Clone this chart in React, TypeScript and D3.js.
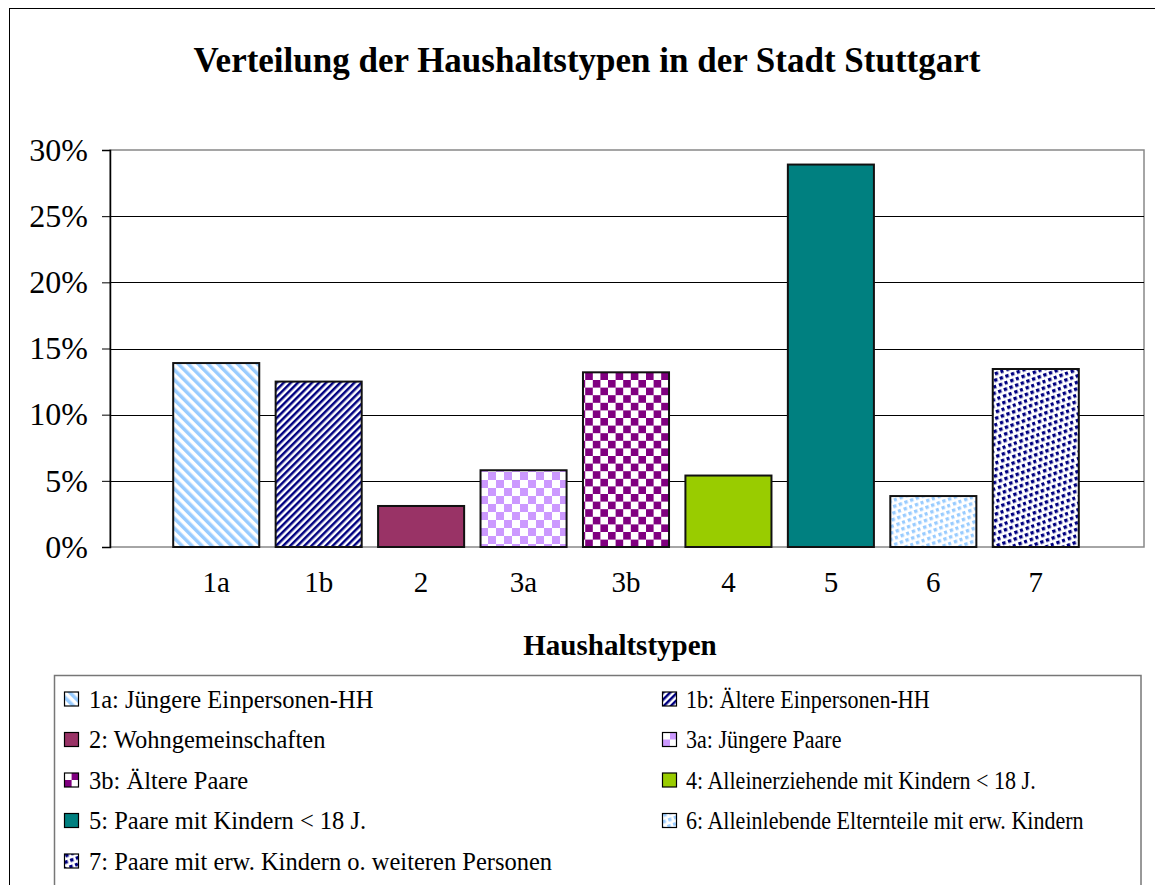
import React, { useEffect, useRef } from 'react';
import * as d3 from 'd3';

// chart data
const categories = ['1a', '1b', '2', '3a', '3b', '4', '5', '6', '7'];
const shares = [13.9, 12.5, 3.1, 5.8, 13.2, 5.4, 28.9, 3.85, 13.45];
const legendLabels = [
  '1a: Jüngere Einpersonen-HH',
  '1b: Ältere Einpersonen-HH',
  '2: Wohngemeinschaften',
  '3a: Jüngere Paare',
  '3b: Ältere Paare',
  '4: Alleinerziehende mit Kindern < 18 J.',
  '5: Paare mit Kindern < 18 J.',
  '6: Alleinlebende Elternteile mit erw. Kindern',
  '7: Paare mit erw. Kindern o. weiteren Personen',
];
const yTicks = [0, 5, 10, 15, 20, 25, 30];

const FONT = "'Liberation Serif', 'Times New Roman', serif";

const App: React.FC = () => {
  const svgRef = useRef<SVGSVGElement | null>(null);

  useEffect(() => {
    if (!svgRef.current) return;
    const width = 1155;
    const height = 885;
    const plot = { left: 110, right: 1144, top: 150, bottom: 547 };

    const svg = d3.select(svgRef.current)
      .attr('width', width)
      .attr('height', height)
      .attr('viewBox', `0 0 ${width} ${height}`);
    svg.selectAll('*').remove();

    // patterns
    const defs = svg.append('defs');
    const stripes = (id: string, color: string, size: number, dir: 1 | -1) => {
      const p = defs.append('pattern')
        .attr('id', id)
        .attr('patternUnits', 'userSpaceOnUse')
        .attr('width', size)
        .attr('height', size)
        .attr('patternTransform', `rotate(${dir * 45})`);
      p.append('rect').attr('width', size).attr('height', size).attr('fill', '#fff');
      p.append('rect').attr('width', size / 2).attr('height', size).attr('fill', color);
    };
    const checker = (id: string, color: string, size: number) => {
      const p = defs.append('pattern')
        .attr('id', id)
        .attr('patternUnits', 'userSpaceOnUse')
        .attr('width', size * 2)
        .attr('height', size * 2);
      p.append('rect').attr('width', size * 2).attr('height', size * 2).attr('fill', '#fff');
      p.append('rect').attr('width', size).attr('height', size).attr('fill', color);
      p.append('rect').attr('x', size).attr('y', size).attr('width', size).attr('height', size).attr('fill', color);
    };
    const dots = (id: string, color: string) => {
      const p = defs.append('pattern')
        .attr('id', id)
        .attr('patternUnits', 'userSpaceOnUse')
        .attr('width', 12)
        .attr('height', 12)
        .attr('patternTransform', 'rotate(-20)');
      p.append('rect').attr('width', 12).attr('height', 12).attr('fill', '#fff');
      [[0, 0], [6, 0], [3, 6], [9, 6]].forEach(([x, y]) => {
        p.append('rect').attr('x', x).attr('y', y).attr('width', 3.4).attr('height', 3.4).attr('fill', color);
      });
    };
    stripes('p1a', '#99ccff', 7, -1);
    stripes('p1b', '#000080', 5, 1);
    checker('p3a', '#cc99ff', 8);
    checker('p3b', '#800080', 7.6);
    dots('p6', '#99ccff');
    dots('p7', '#000080');

    const fills = [
      'url(#p1a)', 'url(#p1b)', '#993366', 'url(#p3a)', 'url(#p3b)',
      '#99cc00', '#008080', 'url(#p6)', 'url(#p7)',
    ];

    // outer chart frame
    svg.append('rect')
      .attr('x', 9.5).attr('y', 8.5)
      .attr('width', width).attr('height', height)
      .attr('fill', '#fff').attr('stroke', '#000').attr('stroke-width', 1);

    // title
    svg.append('text')
      .attr('x', 587).attr('y', 72)
      .attr('text-anchor', 'middle')
      .attr('font-family', FONT).attr('font-weight', 'bold').attr('font-size', 35)
      .text('Verteilung der Haushaltstypen in der Stadt Stuttgart');

    const x = d3.scaleBand<string>()
      .domain(categories)
      .range([165, 1087])
      .paddingInner(0.16)
      .paddingOuter(0.08);

    const y = d3.scaleLinear()
      .domain([0, 30])
      .range([plot.bottom, plot.top]);

    // plot frame (gray)
    svg.append('rect')
      .attr('x', plot.left).attr('y', plot.top)
      .attr('width', plot.right - plot.left).attr('height', plot.bottom - plot.top)
      .attr('fill', 'none').attr('stroke', '#888').attr('stroke-width', 1.5);

    // gridlines
    svg.append('g')
      .selectAll('line')
      .data(yTicks.filter(t => t > 0 && t < 30))
      .join('line')
      .attr('x1', plot.left).attr('x2', plot.right)
      .attr('y1', d => Math.round(y(d)) + 0.5).attr('y2', d => Math.round(y(d)) + 0.5)
      .attr('stroke', '#000').attr('stroke-width', 1);

    // y axis
    const yAxis = svg.append('g')
      .attr('transform', `translate(${plot.left},0)`)
      .call(d3.axisLeft(y).tickValues(yTicks).tickSize(8).tickPadding(14).tickFormat(d => `${d}%`));
    yAxis.select('.domain').attr('stroke', '#000').attr('stroke-width', 1.5);
    yAxis.selectAll('line').attr('stroke', '#000');
    yAxis.selectAll('text')
      .attr('font-family', FONT).attr('font-size', 32).attr('fill', '#000');

    // bars
    svg.append('g')
      .selectAll('rect')
      .data(shares)
      .join('rect')
      .attr('x', (_, i) => x(categories[i])!)
      .attr('y', d => y(d))
      .attr('width', x.bandwidth())
      .attr('height', d => y(0) - y(d))
      .attr('fill', (_, i) => fills[i])
      .attr('stroke', '#111').attr('stroke-width', 2);

    // x axis labels
    const xAxis = svg.append('g')
      .attr('transform', `translate(0,${plot.bottom})`)
      .call(d3.axisBottom(x).tickSize(0).tickPadding(24));
    xAxis.select('.domain').remove();
    xAxis.selectAll('text')
      .attr('font-family', FONT).attr('font-size', 29).attr('fill', '#000');

    svg.append('text')
      .attr('x', 620).attr('y', 655)
      .attr('text-anchor', 'middle')
      .attr('font-family', FONT).attr('font-weight', 'bold').attr('font-size', 29)
      .text('Haushaltstypen');

    // legend
    const legend = svg.append('g');
    legend.append('rect')
      .attr('x', 54.5).attr('y', 675.5)
      .attr('width', 1141 - 54.5).attr('height', 260)
      .attr('fill', '#fff').attr('stroke', '#777').attr('stroke-width', 1.5);

    const item = legend.selectAll('g')
      .data(legendLabels)
      .join('g')
      .attr('transform', (_, i) => `translate(${i % 2 === 0 ? 64 : 662},${699 + Math.floor(i / 2) * 40.5})`);
    item.append('rect')
      .attr('x', 0.5).attr('y', -7)
      .attr('width', 14).attr('height', 14)
      .attr('fill', (_, i) => fills[i])
      .attr('stroke', '#000').attr('stroke-width', 1.2);
    item.append('text')
      .attr('transform', (_, i) => (i % 2 === 0 ? 'translate(25,0)' : 'translate(24,0) scale(0.9,1)'))
      .attr('dy', '0.35em')
      .attr('font-family', FONT).attr('font-size', 24.5)
      .text(d => d);
  }, []);

  return (
    <div style={{ position: 'absolute', left: 0, top: 0 }}>
      <svg ref={svgRef} style={{ display: 'block' }}></svg>
    </div>
  );
};

export default App;
